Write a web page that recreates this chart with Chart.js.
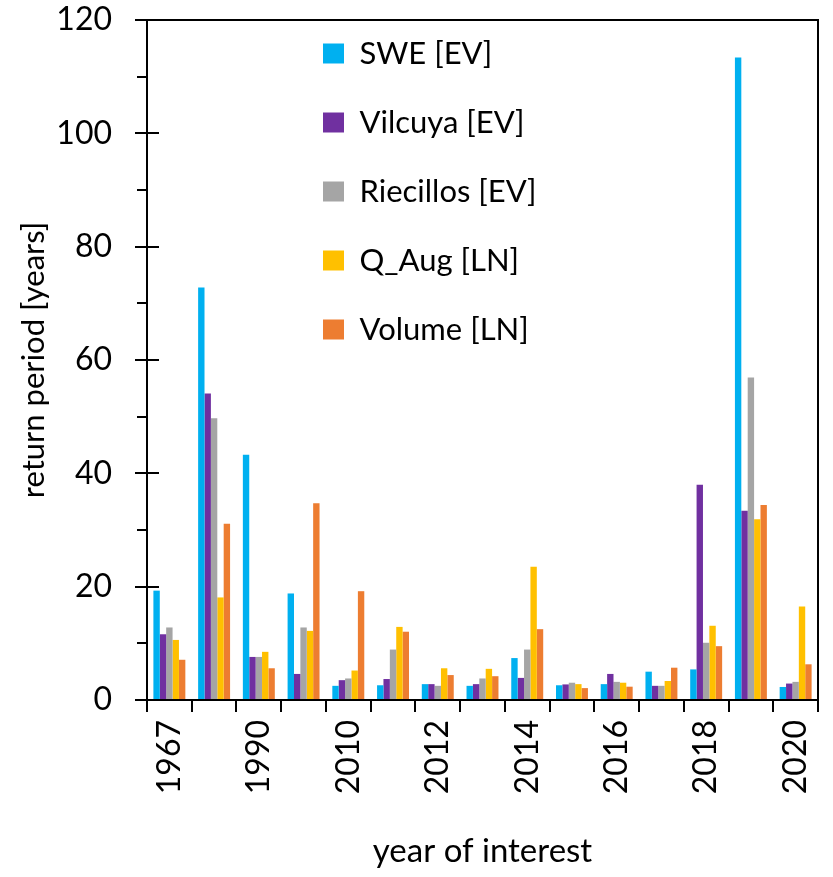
<!DOCTYPE html>
<html>
<head>
<meta charset="utf-8">
<title>Return periods by year of interest</title>
<script src="https://cdn.jsdelivr.net/npm/chart.js@4/dist/chart.umd.min.js"></script>
<style>
  html, body { margin: 0; padding: 0; background: #fff; }
  #wrap { width: 833px; height: 877px; }
</style>
</head>
<body>
<div id="wrap"><canvas id="chart" width="833" height="877"></canvas></div>
<script>
// Years of interest (every other one is labelled on the axis)
const years = ['1967', '1968', '1990', '1996', '2010', '2011', '2012', '2013',
               '2014', '2015', '2016', '2017', '2018', '2019', '2020'];

// Return periods [years]
const sweEV       = [19.3, 72.8, 43.3, 18.8, 2.5, 2.6, 2.8, 2.5, 7.4, 2.6, 2.8, 5.0, 5.4, 113.4, 2.3];
const vilcuyaEV   = [11.6, 54.1, 7.6, 4.6, 3.5, 3.7, 2.8, 2.8, 3.9, 2.75, 4.6, 2.5, 38.0, 33.4, 2.9];
const riecillosEV = [12.8, 49.7, 7.6, 12.8, 3.8, 8.9, 2.5, 3.8, 8.9, 3.05, 3.2, 2.5, 10.1, 56.9, 3.2];
const qAugLN      = [10.6, 18.1, 8.5, 12.2, 5.2, 12.9, 5.6, 5.5, 23.5, 2.8, 3.05, 3.35, 13.1, 31.9, 16.5];
const volumeLN    = [7.1, 31.1, 5.6, 34.7, 19.2, 12.05, 4.4, 4.2, 12.5, 2.1, 2.35, 5.7, 9.5, 34.4, 6.3];

const seriesNames = ['SWE [EV]', 'Vilcuya [EV]', 'Riecillos [EV]', 'Q_Aug [LN]', 'Volume [LN]'];
const seriesColors = ['#00B0F0', '#7030A0', '#A5A5A5', '#FFC000', '#ED7D31'];

// y axis: labelled every 20, minor marks every 5
const yMax = 120;
const yMajorStep = 20;
const yMinorStep = 5;

const FONT = 'Lato';
Chart.defaults.font.family = FONT;
Chart.defaults.color = '#000';

const seriesValues = [sweEV, vilcuyaEV, riecillosEV, qAugLN, volumeLN];
const datasets = seriesNames.map((name, i) => ({
  label: name,
  data: seriesValues[i],
  backgroundColor: seriesColors[i],
  borderColor: seriesColors[i],
  borderWidth: 0,
  categoryPercentage: 5 / 7,
  barPercentage: 1.0
}));

// Legend column position inside the plot area
const LEGEND_BOX_X = 323;
const LEGEND_TOP = 0;

// Frame along the top/right of the plot area and the long major ticks on y
const frameAndTicks = {
  id: 'frameAndTicks',
  afterLayout(chart) {
    const lg = chart.legend;
    if (lg) {
      const pad = lg.options.labels.padding;
      lg.left = LEGEND_BOX_X - pad;
      lg.top = LEGEND_TOP;
    }
  },
  afterDraw(chart) {
    const { ctx, chartArea: a, scales: { y } } = chart;
    ctx.save();
    ctx.strokeStyle = '#000';
    ctx.lineWidth = 2;
    ctx.beginPath();
    ctx.moveTo(a.left, a.top);
    ctx.lineTo(a.right, a.top);
    ctx.lineTo(a.right, a.bottom);
    ctx.stroke();
    ctx.beginPath();
    for (let v = 0; v <= yMax; v += yMajorStep) {
      const py = Math.round(y.getPixelForValue(v));
      ctx.moveTo(a.left - 12, py);
      ctx.lineTo(a.left + 12, py);
    }
    ctx.stroke();
    ctx.restore();
  }
};

new Chart(document.getElementById('chart'), {
  type: 'bar',
  data: { labels: years, datasets },
  options: {
    responsive: false,
    animation: false,
    layout: { padding: { top: 20, right: 15, left: 0, bottom: 0 } },
    plugins: {
      tooltip: { enabled: false },
      legend: {
        position: 'chartArea',
        fullSize: false,
        align: 'start',
        labels: {
          boxWidth: 21,
          boxHeight: 20,
          padding: 38,
          color: '#000',
          font: { family: FONT, size: 31 }
        }
      }
    },
    scales: {
      x: {
        offset: true,
        grid: {
          offset: true,
          drawOnChartArea: false,
          drawTicks: true,
          tickLength: 12,
          color: '#000',
          lineWidth: 2
        },
        border: { display: true, color: '#000', width: 2 },
        ticks: {
          autoSkip: false,
          minRotation: 90,
          maxRotation: 90,
          padding: 8,
          color: '#000',
          font: { family: FONT, size: 32 },
          callback: function (value, index) {
            return index % 2 === 0 ? this.getLabelForValue(value) : '';
          }
        },
        title: {
          display: true,
          text: 'year of interest',
          color: '#000',
          font: { family: FONT, size: 33 },
          padding: { top: 0, bottom: 6 }
        },
        afterFit: (scale) => {
          scale.height = 177;
          scale.paddingLeft = 0;
          scale.paddingRight = 0;
        }
      },
      y: {
        min: 0,
        max: yMax,
        grid: {
          drawOnChartArea: false,
          drawTicks: true,
          tickLength: 10,
          color: '#000',
          lineWidth: 2
        },
        border: { display: true, color: '#000', width: 2 },
        ticks: {
          stepSize: yMinorStep,
          padding: 25,
          color: '#000',
          font: { family: FONT, size: 32 },
          callback: (v) => (v % yMajorStep === 0 ? String(v) : '')
        },
        title: {
          display: true,
          text: 'return period [years]',
          color: '#000',
          font: { family: FONT, size: 31 },
          padding: { top: 15, bottom: 0 }
        },
        afterFit: (scale) => {
          scale.width = 147;
          scale.paddingTop = 0;
          scale.paddingBottom = 0;
        }
      }
    }
  },
  plugins: [frameAndTicks]
});
</script>
</body>
</html>
